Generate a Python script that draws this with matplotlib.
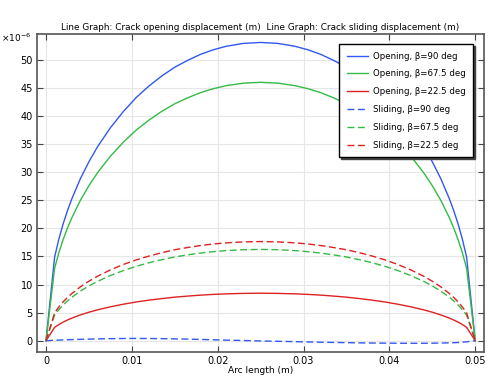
import matplotlib
matplotlib.use("Agg")
import matplotlib.pyplot as plt

# arc length along crack (m)
arc = [0, 0.001, 0.0015, 0.002, 0.0025, 0.003, 0.004, 0.005, 0.006, 0.0075,
       0.009, 0.0105, 0.012, 0.0135, 0.015, 0.0165, 0.018, 0.0195, 0.021, 0.023,
       0.025, 0.027, 0.029, 0.0305, 0.032, 0.0335, 0.035, 0.0365, 0.038, 0.0395,
       0.041, 0.0425, 0.044, 0.045, 0.046, 0.047, 0.0475, 0.048, 0.0485, 0.049,
       0.05]

# displacements in 1e-6 m
open_90 = [0, 14.87, 18.11, 20.82, 23.15, 25.22, 28.83, 31.86, 34.52, 37.91,
           40.78, 43.28, 45.35, 47.15, 48.69, 49.91, 50.98, 51.80, 52.42, 52.93,
           53.1, 52.93, 52.42, 51.80, 50.98, 49.91, 48.69, 47.15, 45.35, 43.28,
           40.78, 37.91, 34.52, 31.86, 28.83, 25.22, 23.15, 20.82, 18.11, 14.87,
           0]
open_675 = [0, 12.88, 15.69, 18.03, 20.06, 21.85, 24.98, 27.6, 29.9, 32.84,
            35.33, 37.49, 39.28, 40.85, 42.18, 43.24, 44.16, 44.87, 45.41, 45.85,
            46.0, 45.85, 45.41, 44.87, 44.16, 43.24, 42.18, 40.85, 39.28, 37.49,
            35.33, 32.84, 29.9, 27.6, 24.98, 21.85, 20.06, 18.03, 15.69, 12.88,
            0]
open_225 = [0, 2.37, 2.88, 3.31, 3.68, 4.01, 4.59, 5.07, 5.49, 6.03,
            6.49, 6.89, 7.22, 7.50, 7.75, 7.94, 8.11, 8.24, 8.34, 8.42,
            8.45, 8.42, 8.34, 8.24, 8.11, 7.94, 7.75, 7.50, 7.22, 6.89,
            6.49, 6.03, 5.49, 5.07, 4.59, 4.01, 3.68, 3.31, 2.88, 2.37,
            0]
slide_90 = [0, 0.08, 0.11, 0.14, 0.17, 0.19, 0.24, 0.28, 0.32, 0.36,
            0.39, 0.40, 0.39, 0.36, 0.32, 0.28, 0.22, 0.16, 0.10, 0.03,
            -0.05, -0.11, -0.17, -0.22, -0.27, -0.31, -0.35, -0.39, -0.42, -0.44,
            -0.46, -0.46, -0.46, -0.44, -0.42, -0.38, -0.36, -0.32, -0.27, -0.20,
            0]
slide_675 = [0, 4.55, 5.54, 6.37, 7.09, 7.72, 8.82, 9.75, 10.56, 11.60,
             12.48, 13.24, 13.88, 14.43, 14.90, 15.28, 15.60, 15.85, 16.04, 16.20,
             16.25, 16.20, 16.04, 15.85, 15.60, 15.28, 14.90, 14.43, 13.88, 13.24,
             12.48, 11.60, 10.56, 9.75, 8.82, 7.72, 7.09, 6.37, 5.54, 4.55,
             0]
slide_225 = [0, 4.94, 6.02, 6.92, 7.70, 8.38, 9.58, 10.59, 11.47, 12.60,
             13.56, 14.38, 15.07, 15.67, 16.19, 16.59, 16.94, 17.22, 17.42, 17.59,
             17.65, 17.59, 17.42, 17.22, 16.94, 16.59, 16.19, 15.67, 15.07, 14.38,
             13.56, 12.60, 11.47, 10.59, 9.58, 8.38, 7.70, 6.92, 6.02, 4.94,
             0]

blue = "#3358f0"
green = "#33bb44"
red = "#dd2222"
dash = (0, (5, 2.5))

fig = plt.figure(figsize=(4.98, 3.78), dpi=100)
ax = fig.add_axes([0.0743, 0.069, 0.898, 0.841])

ax.plot(arc, open_90, color=blue, lw=1, label="Opening, β=90 deg")
ax.plot(arc, open_675, color=green, lw=1, label="Opening, β=67.5 deg")
ax.plot(arc, open_225, color=red, lw=1, label="Opening, β=22.5 deg")
ax.plot(arc, slide_90, color=blue, lw=1, ls=dash, label="Sliding, β=90 deg")
ax.plot(arc, slide_675, color=green, lw=1, ls=dash, label="Sliding, β=67.5 deg")
ax.plot(arc, slide_225, color=red, lw=1, ls=dash, label="Sliding, β=22.5 deg")

ax.set_xlim(-0.00105, 0.05105)
ax.set_ylim(-2.0, 54.6)
ax.set_xticks([0, 0.01, 0.02, 0.03, 0.04, 0.05])
ax.set_xticklabels(["0", "0.01", "0.02", "0.03", "0.04", "0.05"])
ax.set_yticks(range(0, 55, 5))
ax.tick_params(direction="in", top=True, right=True, labelsize=7,
               length=4, width=0.8, color="#444444", pad=3)
ax.grid(True, color="#e6e6e6", lw=0.8)
ax.set_axisbelow(True)
for s in ax.spines.values():
    s.set_color("#555555")
    s.set_linewidth(1.2)

ax.set_xlabel("Arc length (m)", fontsize=6.5, labelpad=0)
ax.set_title("Line Graph: Crack opening displacement (m)  Line Graph: Crack sliding displacement (m)",
             fontsize=6.4, pad=3)
fig.text(0.002, 0.888, "×10$^{-6}$", fontsize=6.5)

leg = ax.legend(loc="upper right", fontsize=6.2, fancybox=False,
                shadow={"ox": 1.5, "oy": -1.5, "color": "#444444", "alpha": 1},
                framealpha=1, borderpad=0.9, labelspacing=1.02,
                handlelength=2.5, handletextpad=0.5, borderaxespad=0,
                bbox_to_anchor=(0.975, 0.969))
leg.get_frame().set_edgecolor("black")
leg.get_frame().set_linewidth(1.0)

fig.savefig("out.png", dpi=100)
